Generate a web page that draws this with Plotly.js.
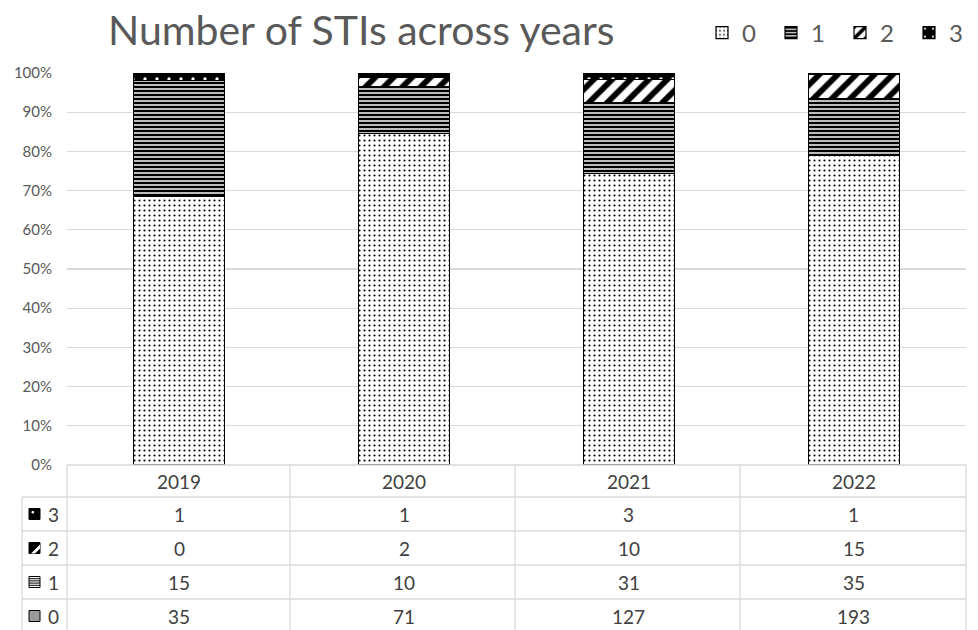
<!DOCTYPE html>
<html>
<head>
<meta charset="utf-8">
<script src="https://cdn.plot.ly/plotly-3.0.1.min.js"></script>
<style>html,body{margin:0;padding:0;background:#fff;}#chart{width:978px;height:630px;}</style>
</head>
<body>
<div id="chart"></div>
<script>
// ---- data ----
const years = ['2019', '2020', '2021', '2022'];
const sti0 = [35, 71, 127, 193];
const sti1 = [15, 10, 31, 35];
const sti2 = [0, 2, 10, 15];
const sti3 = [1, 1, 3, 1];
const seriesNames = ['0', '1', '2', '3'];
const titleText = 'Number of STIs across years';

// ---- geometry helpers (plot area: x 67..966, y 73..465) ----
const L = 67, R = 966, T = 73, B = 465;
const xp = px => (px - L) / (R - L);
const yp = py => (B - py) / (B - T);

const FONT = 'Lato, "Open Sans", sans-serif';
const GRID = '#d9d9d9';
const TXT = '#404040';

const seriesVals = [sti0, sti1, sti2, sti3];
const patterns = [
  {color: '#ffffff', pattern: {shape: '.', fgcolor: '#000000', bgcolor: '#ffffff', size: 5, solidity: 0.15}},
  {color: '#ffffff', pattern: {shape: '-', fgcolor: '#000000', bgcolor: '#bdbdbd', size: 4, solidity: 0.5}},
  {color: '#ffffff', pattern: {shape: '/', fgcolor: '#000000', bgcolor: '#ffffff', size: 13, solidity: 0.45}},
  {color: '#000000', pattern: {shape: '.', fgcolor: '#ffffff', bgcolor: '#000000', size: 12, solidity: 0.06}}
];

const traces = seriesVals.map((vals, i) => ({
  type: 'bar',
  name: seriesNames[i],
  x: years,
  y: vals,
  marker: {
    color: patterns[i].color,
    pattern: patterns[i].pattern,
    line: {color: '#000000', width: 1.2}
  },
  hoverinfo: 'x+y+name'
}));

// ---- data table below the plot ----
const shapes = [];
const annotations = [];
const line = (x0, y0, x1, y1) => shapes.push({
  type: 'line', xref: 'paper', yref: 'paper',
  x0: xp(x0), y0: yp(y0), x1: xp(x1), y1: yp(y1),
  line: {color: GRID, width: 1.3}
});
const rowsY = [497, 531, 565, 599, 633];
const colX = [67, 290, 515, 740, 966];
line(67, 465, 966, 465);
rowsY.slice(0, 4).forEach(y => line(22, y, 966, y));
colX.forEach(x => line(x, 465, x, 633));
line(22, 497, 22, 633);

// header row: category labels (category axis: position by index)
years.forEach((yr, j) => annotations.push({
  xref: 'x', yref: 'paper', x: j, y: yp(481), text: yr, showarrow: false,
  font: {family: FONT, size: 19, color: TXT}, xanchor: 'center', yanchor: 'middle'
}));

// rows: series 3,2,1,0 from top
const rowOrder = [3, 2, 1, 0];
rowOrder.forEach((si, r) => {
  const cy = (rowsY[r] + rowsY[r + 1]) / 2;
  annotations.push({
    xref: 'paper', yref: 'paper', x: xp(46), y: yp(cy), text: seriesNames[si], showarrow: false,
    font: {family: FONT, size: 19, color: TXT}, xanchor: 'left', yanchor: 'middle'
  });
  seriesVals[si].forEach((v, j) => annotations.push({
    xref: 'x', yref: 'paper', x: j, y: yp(cy), text: String(v), showarrow: false,
    font: {family: FONT, size: 19, color: TXT}, xanchor: 'center', yanchor: 'middle'
  }));
  const sx0 = 29, sx1 = 40, sy0 = cy - 5.5, sy1 = cy + 5.5;
  const rect = (a, b, c, d, fill, lc) => shapes.push({
    type: 'rect', xref: 'paper', yref: 'paper',
    x0: xp(a), x1: xp(c), y0: yp(b), y1: yp(d),
    fillcolor: fill, line: {color: lc || '#000', width: 1}
  });
  const path = (p, fill) => shapes.push({type: 'path', xref: 'paper', yref: 'paper', path: p, fillcolor: fill, line: {width: 0}});
  const P = (x, y) => xp(x) + ',' + yp(y);
  if (si === 3) {
    rect(sx0, sy0, sx1, sy1, '#000');
    rect(sx0 + 3, sy0 + 3, sx0 + 4.5, sy0 + 4.5, '#fff', '#fff');
  } else if (si === 2) {
    rect(sx0, sy0, sx1, sy1, '#000');
    path('M' + P(sx0 + 2, sy1) + ' L' + P(sx1, sy0 + 2) + ' L' + P(sx1, sy0 + 6) + ' L' + P(sx0 + 6, sy1) + ' Z', '#fff');
  } else if (si === 1) {
    rect(sx0, sy0, sx1, sy1, '#fff');
    for (let k = 1; k <= 4; k++) {
      const yy = sy0 + k * 11 / 5;
      shapes.push({type: 'line', xref: 'paper', yref: 'paper', x0: xp(sx0), x1: xp(sx1), y0: yp(yy), y1: yp(yy), line: {color: '#000', width: 1}});
    }
  } else {
    rect(sx0, sy0, sx1, sy1, '#9a9a9a');
  }
});

const layout = {
  width: 978,
  height: 630,
  margin: {l: L, r: 978 - R, t: T, b: 630 - B, pad: 0, autoexpand: false},
  paper_bgcolor: '#ffffff',
  plot_bgcolor: '#ffffff',
  barmode: 'stack',
  barnorm: 'percent',
  bargap: 0.595,
  title: {
    text: titleText,
    xref: 'container', yref: 'container',
    x: 108 / 978, xanchor: 'left',
    y: 1 - 31 / 630, yanchor: 'middle',
    font: {family: FONT, size: 41, color: '#595959'}
  },
  showlegend: true,
  legend: {
    orientation: 'h',
    xref: 'container', yref: 'container',
    x: 702 / 978, xanchor: 'left',
    y: 1 - 33 / 630, yanchor: 'middle',
    font: {family: FONT, size: 24, color: '#595959'},
    traceorder: 'normal',
    itemwidth: 30,
    entrywidth: 24,
    entrywidthmode: 'pixels',
    bgcolor: 'rgba(0,0,0,0)'
  },
  xaxis: {
    type: 'category',
    range: [-0.5, 3.5],
    showticklabels: false,
    ticks: '',
    showgrid: false,
    zeroline: false,
    showline: false
  },
  yaxis: {
    range: [0, 100],
    dtick: 10,
    ticksuffix: '%',
    ticks: '',
    showgrid: true,
    gridcolor: GRID,
    gridwidth: 1.3,
    zeroline: false,
    showline: false,
    ticklabelstandoff: 14,
    tickfont: {family: FONT, size: 15, color: '#595959'}
  },
  shapes: shapes,
  annotations: annotations
};

Plotly.newPlot('chart', traces, layout, {displayModeBar: false, staticPlot: true});
</script>
</body>
</html>
